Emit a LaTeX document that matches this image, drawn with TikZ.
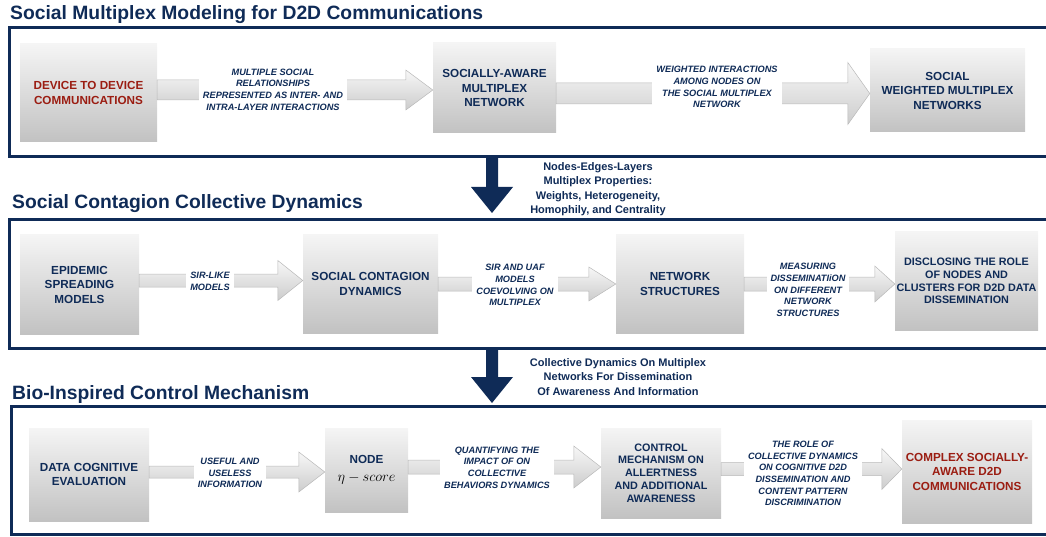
\documentclass[tikz,border=0pt]{standalone}
\usepackage{fontspec}
\setmainfont{Liberation Sans}
\usepackage{tikz}
\usetikzlibrary{calc}
\definecolor{navy}{HTML}{0F2B57}
\definecolor{brick}{HTML}{9B1D12}
\newcommand{\boxfont}{\fontsize{11.7}{14.5}\selectfont\bfseries}
\newcommand{\smallboxfont}{\fontsize{10.8}{12.8}\selectfont\bfseries}
\newcommand{\tagfont}{\fontsize{9.2}{11.7}\selectfont\bfseries\itshape}
\newcommand{\sidefont}{\fontsize{11}{14.5}\selectfont\bfseries}
\newcommand{\titlefont}{\fontsize{19.3}{22}\selectfont\bfseries}
% block arrow between two boxes: from, to, y, shaft half, head half, head length
\newcommand{\flow}[6]{%
  \path[flowfill] (#1.east |- 0,#3-#4) -- ($(#2.west |- 0,#3-#4)+(-#6,0)$)
    -- ($(#2.west |- 0,#3-#5)+(-#6,0)$) -- (#2.west |- 0,#3)
    -- ($(#2.west |- 0,#3+#5)+(-#6,0)$) -- ($(#2.west |- 0,#3+#4)+(-#6,0)$)
    -- (#1.east |- 0,#3+#4) -- cycle;}
% thick down arrow between two stages
\newcommand{\down}[2]{%
  \fill[navy] ($(#1)+(-6,0)$) -- ($(#2)+(-6,-26)$) -- ($(#2)+(-21,-26)$) -- (#2)
    -- ($(#2)+(21,-26)$) -- ($(#2)+(6,-26)$) -- ($(#1)+(6,0)$) -- cycle;}
\tikzset{
  box/.style={top color=gray!8, bottom color=gray!48, text=navy, font=\boxfont,
    align=center, inner sep=0pt},
  flowfill/.style={draw=gray!55, line width=0.5pt, top color=gray!6, bottom color=gray!40},
  tag/.style={fill=white, text=navy, font=\tagfont, align=center, inner xsep=4pt, inner ysep=2pt},
  side/.style={text=navy, font=\sidefont, align=center},
  title/.style={text=navy, font=\titlefont, anchor=base west, inner sep=0pt},
  frame/.style={draw=navy, line width=3pt}
}

\begin{document}
\begin{tikzpicture}[x=1pt, y=-1pt]
\useasboundingbox (0,0) rectangle (1046,537);

% Titles
\node[title] (h1) at (10,20) {Social Multiplex Modeling for D2D Communications};
\node[title] (h2) at (12,209) {Social Contagion Collective Dynamics};
\node[title] (h3) at (12,399) {Bio-Inspired Control Mechanism};

% Frames
\draw[frame] (1050,28) -| (9,157) -- (1050,157);
\draw[frame] (1050,220) -| (9,348) -- (1050,348);
\draw[frame] (1050,406) -| (11,534) -- (1050,534);

% Stage 1
\node[box, minimum width=137pt, minimum height=98pt, text=brick] (dev) at (88.5,93) {DEVICE TO DEVICE\\COMMUNICATIONS};
\node[box, minimum width=123pt, minimum height=90pt] (sam) at (494.5,88) {SOCIALLY-AWARE\\MULTIPLEX\\NETWORK};
\node[box, minimum width=155pt, minimum height=83pt] (swm) at (947.5,90.5) {SOCIAL\\WEIGHTED MULTIPLEX\\NETWORKS};
\flow{dev}{sam}{90}{10}{20}{27}
\flow{sam}{swm}{93.5}{10.5}{31}{22}
\node[tag] (t1) at (273,89.5) {MULTIPLE SOCIAL\\RELATIONSHIPS\\REPRESENTED AS INTER- AND\\INTRA-LAYER INTERACTIONS};
\node[tag] (t2) at (717,87) {WEIGHTED INTERACTIONS\\AMONG NODES ON\\THE SOCIAL MULTIPLEX\\NETWORK};

% Stage 1 to stage 2
\coordinate (d1) at (492,158);
\coordinate (d1e) at (492,213);
\down{d1}{d1e}
\node[side] (s1) at (598,189) {Nodes-Edges-Layers\\Multiplex Properties:\\Weights, Heterogeneity,\\Homophily, and Centrality};

% Stage 2
\node[box, minimum width=119pt, minimum height=99pt] (epi) at (79.5,284.5) {EPIDEMIC\\SPREADING\\MODELS};
\node[box, minimum width=135pt, minimum height=98pt] (scd) at (370.5,284) {SOCIAL CONTAGION\\DYNAMICS};
\node[box, minimum width=128pt, minimum height=98pt] (net) at (680,284) {NETWORK\\STRUCTURES};
\node[box, minimum width=143pt, minimum height=98pt, font=\smallboxfont] (dis) at (966.5,281) {DISCLOSING THE ROLE\\OF NODES AND\\CLUSTERS FOR D2D DATA\\DISSEMINATION};
\flow{epi}{scd}{280.5}{6.5}{20}{25}
\flow{scd}{net}{284}{7}{17}{27}
\flow{net}{dis}{284}{7}{18}{20}
\node[tag] (t3) at (210,281) {SIR-LIKE\\MODELS};
\node[tag] (t4) at (515,285) {SIR AND UAF\\MODELS\\COEVOLVING ON\\MULTIPLEX};
\node[tag] (t5) at (808,290) {MEASURING\\DISSEMINATIiON\\ON DIFFERENT\\NETWORK\\STRUCTURES};

% Stage 2 to stage 3
\coordinate (d2) at (492,348);
\coordinate (d2e) at (492,403);
\down{d2}{d2e}
\node[side] (s2) at (618,377) {Collective Dynamics On Multiplex\\Networks For Dissemination\\Of Awareness And Information};

% Stage 3
\node[box, minimum width=120pt, minimum height=93pt] (dce) at (89,474.5) {DATA COGNITIVE\\EVALUATION};
\node[box, minimum width=83pt, minimum height=84pt] (nod) at (366.5,470) {NODE\\[3pt]{\color{black}\fontsize{14.4}{16}\selectfont$\eta-score$}};
\node[box, minimum width=120pt, minimum height=90pt, font=\smallboxfont] (ctl) at (661,473) {CONTROL\\MECHANISM ON\\ALLERTNESS\\AND ADDITIONAL\\AWARENESS};
\node[box, minimum width=130pt, minimum height=103pt, text=brick] (cpx) at (967,471.5) {COMPLEX SOCIALLY-\\AWARE D2D\\COMMUNICATIONS};
\flow{dce}{nod}{472}{6}{20}{26}
\flow{nod}{ctl}{467}{7}{21}{27}
\flow{ctl}{cpx}{469}{6.5}{20.5}{20}
\node[tag] (t6) at (230,473) {USEFUL AND\\USELESS\\INFORMATION};
\node[tag] (t7) at (497,467.5) {QUANTIFYING THE\\IMPACT OF ON\\COLLECTIVE\\BEHAVIORS DYNAMICS};
\node[tag] (t8) at (803,473.5) {THE ROLE OF\\COLLECTIVE DYNAMICS\\ON COGNITIVE D2D\\DISSEMINATION AND\\CONTENT PATTERN\\DISCRIMINATION};

\end{tikzpicture}
\end{document}
